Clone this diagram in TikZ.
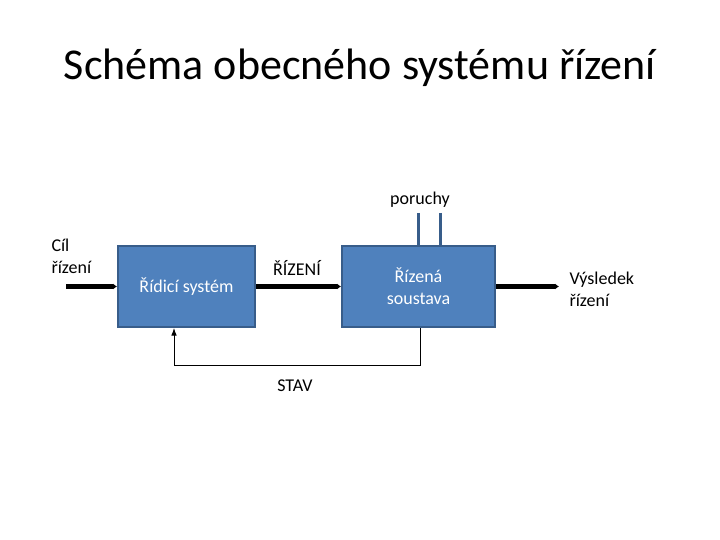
\documentclass[tikz,border=0pt]{standalone}
\usepackage{fontspec}
\setmainfont{Carlito}
\usepackage{xcolor}
\usetikzlibrary{arrows.meta}
\definecolor{blokmodra}{HTML}{4F81BD}
\definecolor{okrajmodra}{HTML}{385D8A}

\begin{document}
\begin{tikzpicture}[>=Latex, x=1pt, y=-1pt,
  blok/.style={draw=okrajmodra, line width=2pt, fill=blokmodra, text=white,
    minimum height=81pt, align=center, font=\fontsize{18}{22}\selectfont},
  popis/.style={align=left, font=\fontsize{18}{22}\selectfont},
  silna/.style={line width=4.5pt, -{Latex[length=4pt,width=6pt]}}]
  \useasboundingbox (0,0) rectangle (720,540);

  % Nadpis
  \node (nadpis) at (360,68) {\fontsize{44}{50}\selectfont Schéma obecného systému řízení};

  % Bloky
  \node[blok, minimum width=137pt] (ridici) at (186.5,286.5) {Řídicí systém};
  \node[blok, minimum width=153pt] (soustava) at (418.5,286.5) {Řízená\\soustava};

  % Popisky
  \node[popis, anchor=west] (cil) at (48,256) {Cíl\\řízení};
  \node[popis, anchor=west] (vysledek) at (566,289.5) {Výsledek\\řízení};
  \node[popis] (rizeni) at (297,268) {ŘÍZENÍ};
  \node[popis] (poruchy) at (420,200) {poruchy};
  \node[popis] (stav) at (295,386) {STAV};

  % Hlavni signaly
  \coordinate (vstup) at (66,286.5);
  \coordinate (vystup) at (559,286.5);
  \draw[silna] (vstup) -- (ridici.west);
  \draw[silna] (ridici.east) -- (soustava.west);
  \draw[silna] (soustava.east) -- (vystup);

  % Poruchy
  \coordinate (p1) at (418,213);
  \coordinate (p2) at (440,213);
  \draw[okrajmodra, line width=3pt] (p1) -- (p1 |- soustava.north);
  \draw[okrajmodra, line width=3pt] (p2) -- (p2 |- soustava.north);

  % Zpetna vazba
  \coordinate (zpet) at (174,365);
  \draw[->, line width=1pt] ([xshift=1.5pt]soustava.south) |- (zpet)
    -- ([xshift=-12.5pt]ridici.south);
\end{tikzpicture}
\end{document}
